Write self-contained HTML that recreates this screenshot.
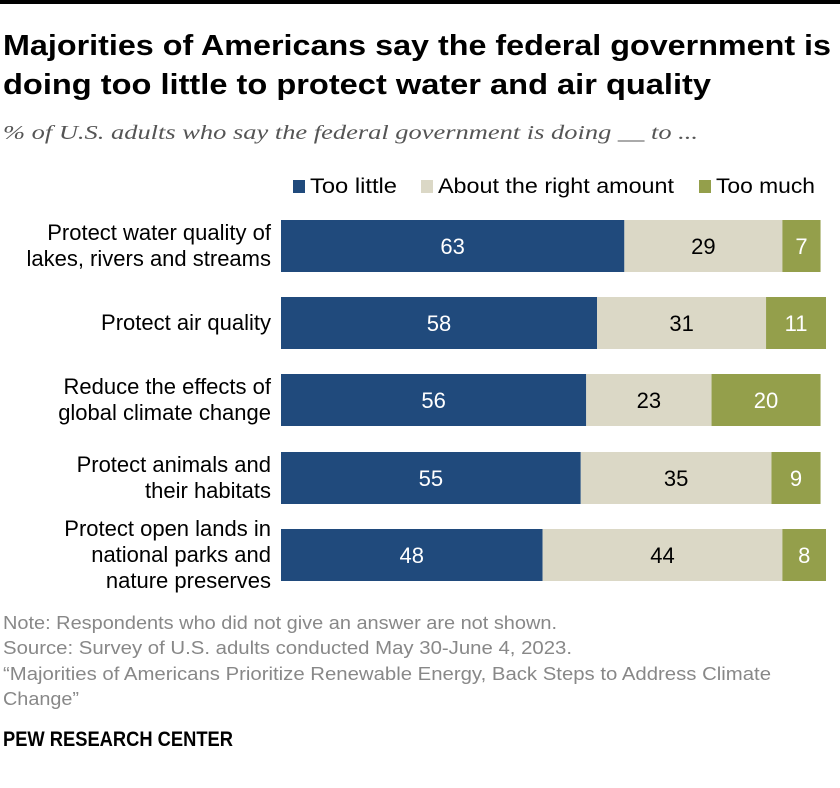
<!DOCTYPE html>
<html><head><meta charset="utf-8"><style>
html,body{margin:0;padding:0;background:#fff;}
svg{display:block;font-family:"Liberation Sans",sans-serif;}
</style></head><body>
<svg id="chart" width="840" height="788" viewBox="0 0 840 788" xmlns="http://www.w3.org/2000/svg">
<rect x="0" y="0" width="840" height="4" fill="#000"/>
<text x="3" y="55" font-size="29" font-weight="bold" fill="#000" textLength="828" lengthAdjust="spacingAndGlyphs">Majorities of Americans say the federal government is</text>
<text x="3" y="94" font-size="29" font-weight="bold" fill="#000" textLength="708" lengthAdjust="spacingAndGlyphs">doing too little to protect water and air quality</text>
<text x="3" y="139" font-size="20" font-style="italic" fill="#555" font-family="Liberation Serif, serif" textLength="695" lengthAdjust="spacingAndGlyphs">% of U.S. adults who say the federal government is doing __ to ...</text>
<g id="legend"></g>
<g id="bars"></g>
<g font-size="18" fill="#888">
<text x="3" y="629" textLength="554" lengthAdjust="spacingAndGlyphs">Note: Respondents who did not give an answer are not shown.</text>
<text x="3" y="654" textLength="569" lengthAdjust="spacingAndGlyphs">Source: Survey of U.S. adults conducted May 30-June 4, 2023.</text>
<text x="3" y="680" textLength="768" lengthAdjust="spacingAndGlyphs">“Majorities of Americans Prioritize Renewable Energy, Back Steps to Address Climate</text>
<text x="3" y="705" textLength="76" lengthAdjust="spacingAndGlyphs">Change”</text>
</g>
<text x="3" y="746" font-size="21" font-weight="bold" fill="#000" textLength="230" lengthAdjust="spacingAndGlyphs">PEW RESEARCH CENTER</text>
</svg>
<script>
const categories = [
  ["Protect water quality of","lakes, rivers and streams"],
  ["Protect air quality"],
  ["Reduce the effects of","global climate change"],
  ["Protect animals and","their habitats"],
  ["Protect open lands in","national parks and","nature preserves"]
];
const tooLittle = [63,58,56,55,48];
const rightAmount = [29,31,23,35,44];
const tooMuch = [7,11,20,9,8];
const seriesNames = ["Too little","About the right amount","Too much"];

const NS="http://www.w3.org/2000/svg";
const colors=["#204a7c","#dbd8c6","#949f4b"];
const textColors=["#fff","#000","#fff"];
const x0=281, unit=5.45;
const xScale=v=>x0+v*unit;
const rowTop=[220,297,374,452,529], barH=52;
const bars=document.getElementById('bars');
const legend=document.getElementById('legend');
function mk(tag,attrs,parent){const e=document.createElementNS(NS,tag);for(const k in attrs)e.setAttribute(k,attrs[k]);parent.appendChild(e);return e;}

const legX=[293,421,699], legW=[87,236,99];
seriesNames.forEach((n,i)=>{
  const r=mk('rect',{x:legX[i],y:180,width:12,height:13,fill:colors[i]},legend);
  
  
  const t=mk('text',{x:legX[i]+17,y:193,'font-size':21,fill:'#000',textLength:legW[i],lengthAdjust:'spacingAndGlyphs'},legend);
  t.textContent=n;
  
  
});

const series=[tooLittle,rightAmount,tooMuch];
categories.forEach((lines,r)=>{
  const top=rowTop[r], cy=top+barH/2;
  const lh=26, start=cy-(lines.length-1)*lh/2+7;
  lines.forEach((ln,j)=>{
    const t=mk('text',{x:271,y:start+j*lh,'font-size':22,'text-anchor':'end',fill:'#000'},bars);
    t.textContent=ln;
    
    
  });
  let acc=0;
  series.forEach((s,i)=>{
    const v=s[r];
    const rect=mk('rect',{x:xScale(acc),y:top,width:v*unit,height:barH,fill:colors[i]},bars);
    
    
    const t=mk('text',{x:xScale(acc+v/2),y:cy+8,'font-size':22,'text-anchor':'middle',fill:textColors[i]},bars);
    t.textContent=v;
    
    
    acc+=v;
  });
});
</script>
</body></html>
